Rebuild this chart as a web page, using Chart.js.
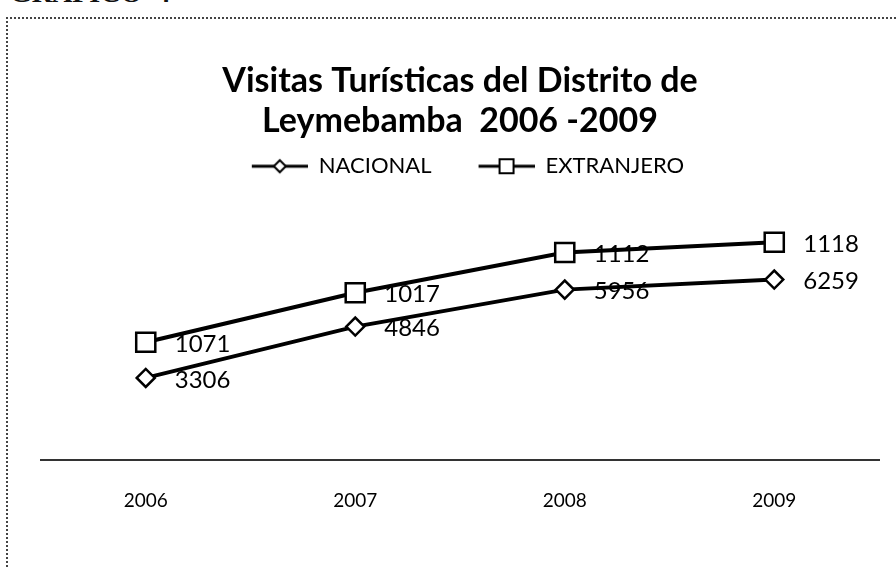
<!DOCTYPE html>
<html>
<head>
<meta charset="utf-8">
<script src="https://cdn.jsdelivr.net/npm/chart.js@4/dist/chart.umd.min.js"></script>
<style>
  html, body { margin: 0; padding: 0; background: #fff; overflow: hidden; width: 896px; height: 567px; }
  #caption { position: absolute; left: 10px; top: -21px; font: bold 28px "Liberation Serif", serif; line-height: 1; color: #111; white-space: pre; }
  #frame { position: absolute; left: 6px; top: 17px; width: 940px; height: 600px;
           border-top: 2px dotted #444; border-left: 2px dotted #444; }
  #wrap { position: absolute; left: 0; top: 0; width: 910px; height: 549px; }
</style>
</head>
<body>
<div id="caption">GRÁFICO  4</div>
<div id="frame">
  <div id="wrap"><canvas id="chart"></canvas></div>
</div>
<script>
const years = ['2006', '2007', '2008', '2009'];
const nacional = [3306, 4846, 5956, 6259];
const extranjero = [1071, 1017, 1112, 1118];

const FONT = 'Lato, Carlito, Calibri, "Open Sans", sans-serif';

// line + marker symbol for the legend, with a blank gap on its left
function legendSymbol(shape) {
  const c = document.createElement('canvas');
  c.width = 72; c.height = 22;
  const g = c.getContext('2d');
  g.strokeStyle = '#000';
  g.lineWidth = 3;
  g.beginPath(); g.moveTo(16, 11); g.lineTo(72, 11); g.stroke();
  g.fillStyle = '#fff';
  g.lineWidth = 2;
  g.beginPath();
  if (shape === 'diamond') {
    g.moveTo(44, 5); g.lineTo(50, 11); g.lineTo(44, 17); g.lineTo(38, 11); g.closePath();
  } else {
    g.rect(37, 4, 14, 14);
  }
  g.fill(); g.stroke();
  return c;
}
const symbols = [legendSymbol('diamond'), legendSymbol('square')];

// values next to each point (raw values, not stacked)
const valueLabels = {
  id: 'valueLabels',
  afterDatasetsDraw(chart) {
    const ctx = chart.ctx;
    ctx.save();
    ctx.fillStyle = '#000';
    ctx.font = '24px ' + FONT;
    ctx.textAlign = 'left';
    ctx.textBaseline = 'middle';
    chart.data.datasets.forEach((ds, i) => {
      chart.getDatasetMeta(i).data.forEach((pt, j) => {
        ctx.fillText(String(ds.data[j]), pt.x + 29, pt.y + 2);
      });
    });
    ctx.restore();
  }
};

new Chart(document.getElementById('chart'), {
  type: 'line',
  data: {
    labels: years,
    datasets: [
      {
        label: 'NACIONAL',
        data: nacional,
        borderColor: '#000',
        borderWidth: 4,
        pointStyle: 'rectRot',
        pointRadius: 9,
        pointBorderWidth: 2.5,
        pointBackgroundColor: '#fff',
        pointBorderColor: '#000',
        tension: 0
      },
      {
        label: 'EXTRANJERO',
        data: extranjero,
        borderColor: '#000',
        borderWidth: 4,
        pointStyle: 'rect',
        pointRadius: 13.5,
        pointBorderWidth: 2.5,
        pointBackgroundColor: '#fff',
        pointBorderColor: '#000',
        tension: 0
      }
    ]
  },
  options: {
    responsive: true,
    maintainAspectRatio: false,
    animation: false,
    layout: { padding: { top: 42, left: 33, right: 39, bottom: 35 } },
    plugins: {
      title: {
        display: true,
        text: ['Visitas Turísticas del Distrito de', 'Leymebamba  2006 -2009'],
        color: '#000',
        font: { family: FONT, size: 34, weight: 'bold', lineHeight: 1.18 },
        padding: { top: 0, bottom: -17 }
      },
      legend: {
        display: true,
        labels: {
          color: '#000',
          font: { family: FONT, size: 22 },
          usePointStyle: true,
          pointStyleWidth: 72,
          padding: 31,
          generateLabels(chart) {
            const items = Chart.defaults.plugins.legend.labels.generateLabels(chart);
            items.forEach((it, i) => { it.pointStyle = symbols[i]; });
            return items;
          }
        }
      },
      tooltip: { enabled: false }
    },
    scales: {
      x: {
        offset: true,
        grid: { display: false },
        border: { display: true, color: '#333', width: 2, dash: [4, 1] },
        ticks: { color: '#000', font: { family: FONT, size: 19 }, padding: 21 }
      },
      y: {
        display: false,
        stacked: true,
        min: 836,
        max: 9029
      }
    }
  },
  plugins: [valueLabels]
});
</script>
</body>
</html>
